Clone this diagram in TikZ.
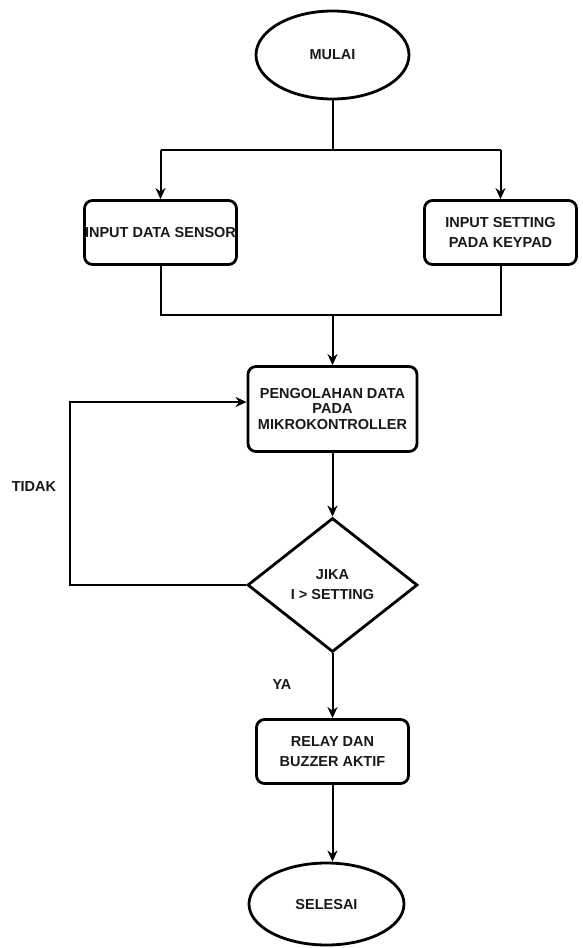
\documentclass[tikz,border=0pt]{standalone}
\usepackage{fontspec}
\setmainfont{Liberation Sans}
\usetikzlibrary{shapes.geometric,arrows.meta}
\begin{document}
\begin{tikzpicture}[x=1pt,y=-1pt,
 every node/.style={font=\bfseries\fontsize{14.5}{20}\selectfont, align=center, inner sep=0pt, text=black!90},
 term/.style={ellipse, draw, line width=2.8pt},
 proc/.style={rectangle, rounded corners=8pt, draw, line width=2.8pt},
 dec/.style={diamond, draw, line width=2.8pt},
 conn/.style={line width=2pt},
 arr/.style={conn, -{Stealth[length=11pt,width=10pt,inset=3.5pt]}}]
\path[fill=white] (0,0) rectangle (582,948);
\node[term, minimum width=153pt, minimum height=88pt] (start) at (332.5,55) {MULAI};
\node[proc, minimum width=152pt, minimum height=64pt] (b1) at (160.5,232.5) {INPUT DATA SENSOR};
\node[proc, minimum width=152pt, minimum height=64pt] (b2) at (500.5,232.5) {INPUT SETTING\\PADA KEYPAD};
\node[proc, minimum width=169pt, minimum height=85pt, font=\bfseries\fontsize{14.5}{15.5}\selectfont] (b3) at (332.5,409) {PENGOLAHAN DATA\\PADA\\MIKROKONTROLLER};
\node[dec, minimum width=170pt, minimum height=134pt] (d) at (332.5,585) {JIKA\\I > SETTING};
\node[proc, minimum width=152pt, minimum height=64pt] (relay) at (332.5,751.5) {RELAY DAN\\BUZZER AKTIF};
\node[term, minimum width=155pt, minimum height=82pt] (end) at (326.5,904) {SELESAI};
\node (tidak) at (34,487) {TIDAK};
\node (ya) at (282,685) {YA};
\coordinate (j1) at (332.5,150);
\coordinate (l1) at (160.5,150);
\coordinate (r1) at (500.5,150);
\coordinate (j2) at (332.5,315);
\coordinate (lp) at (70,402);
\draw[conn] (start.south) -- (j1);
\draw[conn] (l1) -- (r1);
\draw[arr] (l1) -- (b1.north);
\draw[arr] (r1) -- (b2.north);
\draw[conn] (b1.south) -- (b1.south |- j2) -- (b2.south |- j2) -- (b2.south);
\draw[arr] (j2) -- (b3.north);
\draw[arr] (b3.south) -- (d.north);
\draw[arr] (d.west) -- (lp |- d.west) -- (lp) -- (b3.west |- lp);
\draw[arr] (d.south) -- (relay.north);
\draw[arr] (relay.south) -- (relay.south |- end.north);
\end{tikzpicture}
\end{document}
